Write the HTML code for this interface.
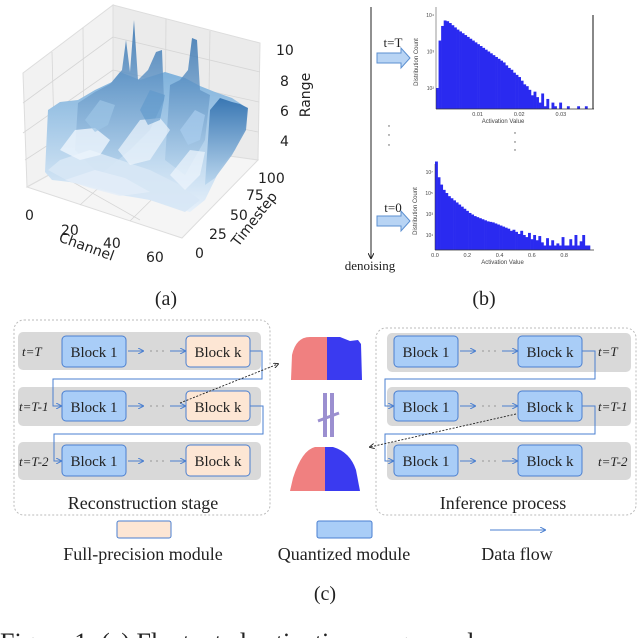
<!DOCTYPE html>
<html><head><meta charset="utf-8"><style>
html,body{margin:0;padding:0;background:#fff;}
body{width:640px;height:638px;overflow:hidden;position:relative;}
svg{position:absolute;left:0;top:0;}
.serif{font-family:"Liberation Serif",serif;}
.sans{font-family:"DejaVu Sans","Liberation Sans",sans-serif;}
</style></head><body>
<svg id="fig" width="640" height="638" viewBox="0 0 640 638">
<defs>
<linearGradient id="gBlue" x1="0" y1="0" x2="0" y2="1"><stop offset="0" stop-color="#2f6fae"/><stop offset="1" stop-color="#b9d6ee"/></linearGradient>
<linearGradient id="gLight" x1="0" y1="0" x2="0" y2="1"><stop offset="0" stop-color="#7fb2dc"/><stop offset="1" stop-color="#e6f0fa"/></linearGradient>
<marker id="ah" markerWidth="6" markerHeight="6" refX="5" refY="3" orient="auto"><path d="M0,0 L6,3 L0,6" fill="none" stroke="#4a7fd0" stroke-width="1"/></marker>
<marker id="ahb" markerWidth="6" markerHeight="6" refX="5" refY="3" orient="auto"><path d="M0,0 L6,3 L0,6" fill="none" stroke="#222" stroke-width="1"/></marker>
</defs>

<!-- (a) 3D plot -->
<g>
  <polygon points="23,73 113,5 113,140 27,187" fill="#f2f2f2" stroke="#ddd"/>
  <polygon points="113,5 260,43 258,160 113,140" fill="#ebebeb" stroke="#ddd"/>
  <polygon points="27,187 113,140 258,160 182,238" fill="#f5f5f5" stroke="#ddd"/>
  <g stroke="#d6d6d6" stroke-width="0.8" fill="none">
    <line x1="52" y1="52" x2="55" y2="172"/><line x1="83" y1="28" x2="84" y2="156"/>
    <line x1="166" y1="19" x2="165" y2="147"/><line x1="210" y1="31" x2="208" y2="153"/>
    <line x1="23" y1="103" x2="113" y2="37"/><line x1="23" y1="133" x2="113" y2="70"/><line x1="25" y1="160" x2="113" y2="103"/>
    <line x1="113" y1="37" x2="260" y2="72"/><line x1="113" y1="70" x2="259" y2="102"/><line x1="113" y1="103" x2="258" y2="132"/>
    <line x1="55" y1="172" x2="140" y2="220"/><line x1="84" y1="156" x2="165" y2="199"/>
    <line x1="145" y1="145" x2="80" y2="205"/><line x1="200" y1="152" x2="130" y2="221"/>
  </g>
  <polygon fill="url(#gLight)" points="45,172 48,110 60,102 78,100 95,90 112,82 120,72 140,80 165,72 185,78 200,86 215,92 232,98 247,108 246,125 235,150 222,165 205,200 190,212 175,208 150,200 120,195 95,186 70,182 52,180"/>
  <polygon fill="url(#gBlue)" opacity="0.85" points="75,150 78,103 95,92 110,84 122,70 126,40 130,72 134,20 138,80 148,70 156,52 162,50 164,100 150,130 130,150 100,175"/>
  <polygon fill="url(#gBlue)" opacity="0.8" points="165,160 170,85 180,80 188,70 192,38 197,40 200,90 210,95 205,140 185,175"/>
  <polygon fill="url(#gBlue)" opacity="0.9" points="205,185 210,110 220,98 232,102 240,104 248,108 246,130 232,155 215,178"/>
  <polygon fill="#d7e7f5" opacity="0.9" points="48,170 60,160 90,150 120,160 150,170 180,185 200,200 185,212 150,200 110,192 70,182"/>
  <g>
    <polygon fill="#eef5fc" opacity="0.8" points="60,150 75,130 95,128 110,140 100,155 80,160"/>
    <polygon fill="#eef5fc" opacity="0.7" points="118,150 140,120 160,118 170,130 150,160 130,165"/>
    <polygon fill="#eef5fc" opacity="0.7" points="170,175 190,150 205,152 200,175 185,190"/>
    <polygon fill="#9cc4e6" opacity="0.7" points="85,120 100,100 115,105 108,125 95,132"/>
    <polygon fill="#5d98cc" opacity="0.6" points="140,110 150,90 165,95 160,120 148,125"/>
    <polygon fill="#a9cdee" opacity="0.7" points="180,130 195,110 205,115 200,140 188,145"/>
    <polygon fill="#e3eef9" opacity="0.8" points="65,180 95,170 125,178 150,192 120,196 90,188"/>
  </g>
  <g class="sans" font-size="14" fill="#222">
    <text x="276" y="55">10</text>
    <text x="280" y="86">8</text>
    <text x="280" y="116">6</text>
    <text x="280" y="146">4</text>
    <text transform="translate(310,95) rotate(-90)" text-anchor="middle">Range</text>
    <text x="258" y="183">100</text>
    <text x="246" y="200">75</text>
    <text x="230" y="220">50</text>
    <text x="209" y="239">25</text>
    <text x="195" y="258">0</text>
    <text transform="translate(258,222) rotate(-52)" text-anchor="middle">Timestep</text>
    <text x="25" y="220">0</text>
    <text x="61" y="235">20</text>
    <text x="103" y="248">40</text>
    <text x="146" y="262">60</text>
    <text transform="translate(85,251) rotate(20)" text-anchor="middle">Channel</text>
  </g>
</g>

<!-- (b) -->
<g>
  <line x1="371" y1="7" x2="371" y2="258" stroke="#222" stroke-width="1" marker-end="url(#ahb)"/>
  <text class="serif" x="370" y="270" font-size="13" text-anchor="middle" fill="#222">denoising</text>
  <text class="serif" x="393" y="47" font-size="13" text-anchor="middle" fill="#222">t=T</text>
  <polygon points="377,53 401,53 401,48 410,58 401,68 401,63 377,63" fill="#b8d4f4" stroke="#5b8fd0"/>
  <text class="serif" x="393" y="212" font-size="13" text-anchor="middle" fill="#222">t=0</text>
  <polygon points="377,216 401,216 401,211 410,221 401,231 401,226 377,226" fill="#b8d4f4" stroke="#5b8fd0"/>
  <g fill="#555">
    <circle cx="389" cy="126" r="0.7"/><circle cx="389" cy="135" r="0.7"/><circle cx="389" cy="145" r="0.7"/>
    <circle cx="515" cy="133" r="0.7"/><circle cx="515" cy="142" r="0.7"/><circle cx="515" cy="150" r="0.7"/>
  </g>
  <g id="h1"></g>
  <g id="h2"></g>
</g>

<!-- labels -->
<text class="serif" x="166" y="305" font-size="20" text-anchor="middle" fill="#222">(a)</text>
<text class="serif" x="484" y="305" font-size="20" text-anchor="middle" fill="#222">(b)</text>

<!-- (c) left box -->
<g class="serif">
  <rect x="14" y="320" width="256" height="195" rx="10" fill="none" stroke="#bbb" stroke-dasharray="2,2"/>
  <rect x="18" y="332" width="243" height="38" rx="5" fill="#d9d9d9"/>
  <rect x="18" y="387" width="243" height="39" rx="5" fill="#d9d9d9"/>
  <rect x="18" y="442" width="243" height="38" rx="5" fill="#d9d9d9"/>
  <g font-size="15" fill="#222">
    <rect x="62" y="336" width="64" height="31" rx="4" fill="#a9cdf7" stroke="#4a7fd0"/><text x="94" y="357" text-anchor="middle">Block 1</text>
    <rect x="186" y="336" width="64" height="31" rx="4" fill="#fde6d4" stroke="#4a7fd0"/><text x="218" y="357" text-anchor="middle">Block k</text>
    <rect x="62" y="391" width="64" height="30" rx="4" fill="#a9cdf7" stroke="#4a7fd0"/><text x="94" y="412" text-anchor="middle">Block 1</text>
    <rect x="186" y="391" width="64" height="30" rx="4" fill="#fde6d4" stroke="#4a7fd0"/><text x="218" y="412" text-anchor="middle">Block k</text>
    <rect x="62" y="445" width="64" height="31" rx="4" fill="#a9cdf7" stroke="#4a7fd0"/><text x="94" y="466" text-anchor="middle">Block 1</text>
    <rect x="186" y="445" width="64" height="31" rx="4" fill="#fde6d4" stroke="#4a7fd0"/><text x="218" y="466" text-anchor="middle">Block k</text>
  </g>
  <g font-size="13" font-style="italic" fill="#222">
    <text x="22" y="356">t=T</text><text x="19" y="411">t=T-1</text><text x="19" y="466">t=T-2</text>
  </g>
  <g stroke="#4a7fd0" stroke-width="1" fill="none">
    <line x1="128" y1="351" x2="143" y2="351" marker-end="url(#ah)"/><line x1="170" y1="351" x2="185" y2="351" marker-end="url(#ah)"/>
    <line x1="128" y1="406" x2="143" y2="406" marker-end="url(#ah)"/><line x1="170" y1="406" x2="185" y2="406" marker-end="url(#ah)"/>
    <line x1="128" y1="461" x2="143" y2="461" marker-end="url(#ah)"/><line x1="170" y1="461" x2="185" y2="461" marker-end="url(#ah)"/>
    <polyline points="250,351 262,351 262,379 53,379 53,406 61,406" marker-end="url(#ah)"/>
    <polyline points="250,406 263,406 263,434 54,434 54,461 61,461" marker-end="url(#ah)"/>
  </g>
  <g fill="#666"><circle cx="151" cy="351" r="0.6"/><circle cx="157" cy="351" r="0.6"/><circle cx="163" cy="351" r="0.6"/><circle cx="151" cy="406" r="0.6"/><circle cx="157" cy="406" r="0.6"/><circle cx="163" cy="406" r="0.6"/><circle cx="151" cy="461" r="0.6"/><circle cx="157" cy="461" r="0.6"/><circle cx="163" cy="461" r="0.6"/></g>
  <text x="143" y="509" font-size="18" text-anchor="middle" fill="#222">Reconstruction stage</text>
</g>

<!-- (c) right box -->
<g class="serif">
  <rect x="376" y="328" width="260" height="187" rx="10" fill="none" stroke="#bbb" stroke-dasharray="2,2"/>
  <rect x="387" y="333" width="244" height="39" rx="5" fill="#d9d9d9"/>
  <rect x="387" y="387" width="244" height="39" rx="5" fill="#d9d9d9"/>
  <rect x="387" y="442" width="244" height="38" rx="5" fill="#d9d9d9"/>
  <g font-size="15" fill="#222">
    <rect x="394" y="336" width="64" height="31" rx="4" fill="#a9cdf7" stroke="#4a7fd0"/><text x="426" y="357" text-anchor="middle">Block 1</text>
    <rect x="518" y="336" width="64" height="31" rx="4" fill="#a9cdf7" stroke="#4a7fd0"/><text x="550" y="357" text-anchor="middle">Block k</text>
    <rect x="394" y="391" width="64" height="30" rx="4" fill="#a9cdf7" stroke="#4a7fd0"/><text x="426" y="412" text-anchor="middle">Block 1</text>
    <rect x="518" y="391" width="64" height="30" rx="4" fill="#a9cdf7" stroke="#4a7fd0"/><text x="550" y="412" text-anchor="middle">Block k</text>
    <rect x="394" y="445" width="64" height="31" rx="4" fill="#a9cdf7" stroke="#4a7fd0"/><text x="426" y="466" text-anchor="middle">Block 1</text>
    <rect x="518" y="445" width="64" height="31" rx="4" fill="#a9cdf7" stroke="#4a7fd0"/><text x="550" y="466" text-anchor="middle">Block k</text>
  </g>
  <g font-size="13" font-style="italic" fill="#222">
    <text x="598" y="356">t=T</text><text x="598" y="411">t=T-1</text><text x="598" y="466">t=T-2</text>
  </g>
  <g stroke="#4a7fd0" stroke-width="1" fill="none">
    <line x1="460" y1="351" x2="475" y2="351" marker-end="url(#ah)"/><line x1="502" y1="351" x2="517" y2="351" marker-end="url(#ah)"/>
    <line x1="460" y1="406" x2="475" y2="406" marker-end="url(#ah)"/><line x1="502" y1="406" x2="517" y2="406" marker-end="url(#ah)"/>
    <line x1="460" y1="461" x2="475" y2="461" marker-end="url(#ah)"/><line x1="502" y1="461" x2="517" y2="461" marker-end="url(#ah)"/>
    <polyline points="582,351 595,351 595,379 385,379 385,406 393,406" marker-end="url(#ah)"/>
    <polyline points="582,406 595,406 595,434 385,434 385,461 393,461" marker-end="url(#ah)"/>
  </g>
  <g fill="#666"><circle cx="483" cy="351" r="0.6"/><circle cx="489" cy="351" r="0.6"/><circle cx="495" cy="351" r="0.6"/><circle cx="483" cy="406" r="0.6"/><circle cx="489" cy="406" r="0.6"/><circle cx="495" cy="406" r="0.6"/><circle cx="483" cy="461" r="0.6"/><circle cx="489" cy="461" r="0.6"/><circle cx="495" cy="461" r="0.6"/></g>
  <text x="503" y="509" font-size="18" text-anchor="middle" fill="#222">Inference process</text>
</g>

<!-- middle histograms -->
<g>
  <path d="M291,380 L292,355 Q296,337 310,337 L327,337 L327,380 Z" fill="#f08080"/>
  <path d="M327,337 L340,337 L350,341 L358,340 L361,344 L362,380 L327,380 Z" fill="#3a3af0"/>
  <path d="M290,491 L293,478 Q302,450 315,447 L325,447 L325,491 Z" fill="#f08080"/>
  <path d="M325,447 L333,447 Q350,452 356,470 L360,491 L325,491 Z" fill="#3a3af0"/>
  <rect x="323" y="393" width="4" height="44" fill="#9b8fd0"/>
  <rect x="330" y="393" width="4" height="44" fill="#9b8fd0"/>
  <line x1="318" y1="421" x2="339" y2="413" stroke="#9b8fd0" stroke-width="3"/>
  <line x1="180" y1="403" x2="278" y2="364" stroke="#222" stroke-width="0.9" stroke-dasharray="2,1.5" marker-end="url(#ahb)"/>
  <line x1="516" y1="414" x2="370" y2="447" stroke="#222" stroke-width="0.9" stroke-dasharray="2,1.5" marker-end="url(#ahb)"/>
</g>

<!-- legend -->
<g class="serif">
  <rect x="117" y="521" width="54" height="17" rx="2" fill="#fde6d4" stroke="#4a7fd0"/>
  <rect x="317" y="521" width="55" height="17" rx="2" fill="#a9cdf7" stroke="#4a7fd0"/>
  <line x1="490" y1="530" x2="545" y2="530" stroke="#4a7fd0" stroke-width="1" marker-end="url(#ah)"/>
  <g font-size="18" fill="#222" text-anchor="middle">
    <text x="143" y="560">Full-precision module</text>
    <text x="344" y="560">Quantized module</text>
    <text x="517" y="560">Data flow</text>
  </g>
</g>
<text class="serif" x="325" y="600" font-size="20" text-anchor="middle" fill="#222">(c)</text>
<text class="serif" x="0" y="651" font-size="26" fill="#222">Figure 1: (a) Fluctuated activation ranges and</text>
</svg>
<script>
// Histogram t=T (log10 counts per bin)
const h1Log = [2.0,3.3,3.7,3.85,3.83,3.78,3.72,3.66,3.6,3.55,3.5,3.45,3.4,3.35,3.3,3.25,3.2,3.15,3.1,3.05,3.0,2.95,2.9,2.85,2.8,2.75,2.7,2.62,2.55,2.5,2.42,2.36,2.3,2.2,2.1,2.05,1.95,1.8,1.9,1.75,1.6,1.85,1.5,1.7,0,1.6,1.5,0,1.6,0,0,1.5,0,0,0,1.5,0,0,1.5,0];
const h1Ticks = ["0.01","0.02","0.03"];
const h1TickVals = [0.01,0.02,0.03];
const h1YTicks = ["10\u2074","10\u00b3","10\u00b2"];
const h1YTickVals = [4,3,2];
// Histogram t=0
const h2Log = [8.0,6.5,5.8,5.3,5.0,4.7,4.5,4.3,4.1,3.9,3.7,3.5,3.3,3.1,2.95,2.8,2.7,2.6,2.5,2.4,2.3,2.25,2.2,2.1,2.0,1.9,1.8,1.7,1.6,1.4,1.5,1.3,1.1,1.4,1.0,0.8,1.2,0.6,1.0,0.5,0.9,0.3,0,0.7,0,0.5,0,0.2,0,0.8,0,0,0.6,0,1.0,0,0.4,1.0,0,0];
const h2Ticks = ["0.0","0.2","0.4","0.6","0.8"];
const h2TickVals = [0,0.2,0.4,0.6,0.8];
const h2YTicks = ["10\u2077","10\u2075","10\u00b3","10\u00b9"];
const h2YTickVals = [7,5,3,1];

const NS="http://www.w3.org/2000/svg";
function mk(tag,attrs,parent){const e=document.createElementNS(NS,tag);for(const k in attrs)e.setAttribute(k,attrs[k]);parent.appendChild(e);return e;}

function drawHist(g,data,cfg,xTicks,xVals,yTicks,yVals,name){
  const bw=(cfg.x1-cfg.x0)/data.length;
  const ys=L=>cfg.yTop+(cfg.LTop-L)*cfg.perDec;
  const xs=v=>cfg.x0+(v-cfg.v0)/(cfg.v1-cfg.v0)*(cfg.x1-cfg.x0);
  data.forEach((L,i)=>{
    const y=Math.min(ys(L),cfg.yBot);
    if(cfg.yBot-y<=0)return;
    const r=mk('rect',{x:cfg.x0+i*bw,y:y,width:bw+0.3,height:cfg.yBot-y,fill:'#2a2af0'},g);
    
    
  });
  mk('line',{x1:cfg.x0,y1:cfg.yBot,x2:cfg.x1+4,y2:cfg.yBot,stroke:'#333','stroke-width':0.8},g);
  mk('line',{x1:cfg.x0,y1:cfg.yTop-8,x2:cfg.x0,y2:cfg.yBot,stroke:'#333','stroke-width':0.5},g);
  xTicks.forEach((t,i)=>{
    const tx=mk('text',{x:xs(xVals[i]),y:cfg.yBot+7,'font-size':5.5,'text-anchor':'middle',fill:'#444','font-family':'Liberation Sans, sans-serif'},g);
    tx.textContent=t;
    
    
  });
  yTicks.forEach((t,i)=>{
    const ty=mk('text',{x:cfg.x0-2,y:ys(yVals[i])+2,'font-size':5,'text-anchor':'end',fill:'#444','font-family':'Liberation Sans, sans-serif'},g);
    ty.textContent=t;
    
    
  });
  const xl=mk('text',{x:(cfg.x0+cfg.x1)/2-10,y:cfg.yBot+14,'font-size':6,'text-anchor':'middle',fill:'#444','font-family':'Liberation Sans, sans-serif'},g);
  xl.textContent='Activation Value';
  
  
  const yl=mk('text',{transform:`translate(${cfg.x0-18},${(cfg.yTop+cfg.yBot)/2}) rotate(-90)`,'font-size':6,'text-anchor':'middle',fill:'#444','font-family':'Liberation Sans, sans-serif'},g);
  yl.textContent='Distribution Count';
  
  
}
drawHist(document.getElementById('h1'),h1Log,{x0:436,x1:590,yTop:15,LTop:4,perDec:36.5,yBot:109,v0:0,v1:0.037},h1Ticks,h1TickVals,h1YTicks,h1YTickVals,'hist-t-T');
mk('line',{x1:593,y1:15,x2:593,y2:109,stroke:'#111','stroke-width':1},document.getElementById('h1'));
drawHist(document.getElementById('h2'),h2Log,{x0:435,x1:590,yTop:172,LTop:7,perDec:10.5,yBot:250,v0:0,v1:0.96},h2Ticks,h2TickVals,h2YTicks,h2YTickVals,'hist-t-0');
</script>
</body></html>
